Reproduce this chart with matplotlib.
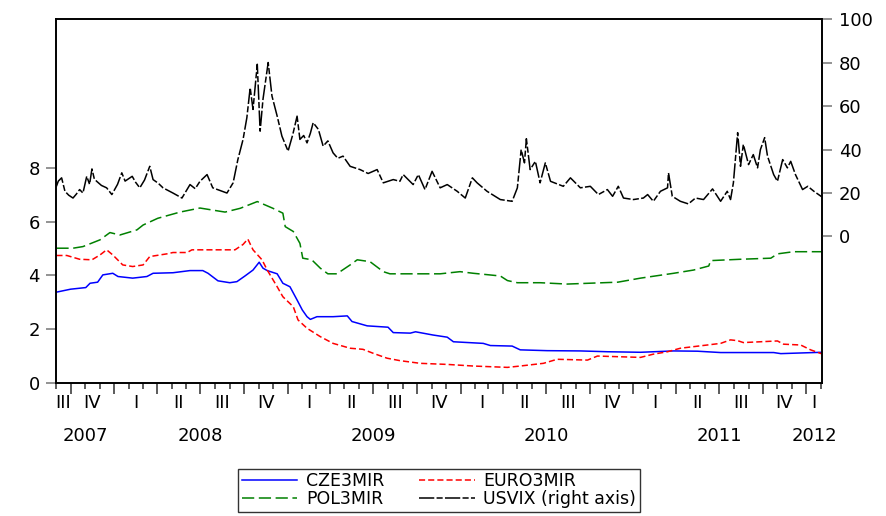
import pandas as pd
import numpy as np
import matplotlib.pyplot as plt
import matplotlib.dates as mdates
import matplotlib.transforms as mtransforms

plt.rcParams['font.family'] = ['DejaVu Sans']

# --- data ---
cze_dates = ["2007-09-01", "2007-10-01", "2007-11-02", "2007-11-11", "2007-11-27", "2007-12-08",
             "2007-12-29", "2008-01-09", "2008-02-09", "2008-03-10", "2008-03-23", "2008-05-04",
             "2008-06-09", "2008-07-06", "2008-07-17", "2008-08-07", "2008-09-01", "2008-09-16",
             "2008-10-03", "2008-10-20", "2008-11-02", "2008-11-10", "2008-11-19", "2008-12-10",
             "2008-12-22", "2009-01-06", "2009-01-21", "2009-02-01", "2009-02-11", "2009-02-18",
             "2009-03-04", "2009-04-07", "2009-05-07", "2009-05-17", "2009-06-18", "2009-08-01",
             "2009-08-12", "2009-09-17", "2009-09-28", "2009-11-04", "2009-12-04", "2009-12-17",
             "2010-02-18", "2010-03-05", "2010-04-20", "2010-05-07", "2010-07-03", "2010-09-11",
             "2010-11-07", "2011-01-16", "2011-03-27", "2011-05-16", "2011-07-04", "2011-10-24",
             "2011-11-08", "2012-02-03"]
cze_vals = [3.38, 3.49, 3.55, 3.71, 3.75, 4.02,
            4.08, 3.96, 3.90, 3.96, 4.08, 4.10,
            4.18, 4.18, 4.08, 3.80, 3.73, 3.77,
            3.98, 4.20, 4.49, 4.27, 4.18, 4.06,
            3.71, 3.58, 3.09, 2.72, 2.47, 2.37,
            2.47, 2.47, 2.50, 2.29, 2.13, 2.08,
            1.88, 1.86, 1.91, 1.79, 1.71, 1.54,
            1.48, 1.40, 1.38, 1.24, 1.21, 1.20,
            1.17, 1.15, 1.20, 1.19, 1.14, 1.14,
            1.10, 1.15]

euro_dates = ["2007-09-01", "2007-09-23", "2007-10-20", "2007-11-15", "2007-12-02", "2007-12-16",
              "2007-12-29", "2008-01-19", "2008-02-09", "2008-03-02", "2008-03-16", "2008-04-21",
              "2008-05-04", "2008-06-03", "2008-06-13", "2008-09-12", "2008-09-29", "2008-10-09",
              "2008-10-20", "2008-11-08", "2008-11-19", "2008-12-10", "2008-12-22", "2009-01-13",
              "2009-01-23", "2009-02-11", "2009-03-11", "2009-04-07", "2009-05-13", "2009-06-09",
              "2009-07-01", "2009-07-30", "2009-08-26", "2009-10-08", "2009-12-04", "2010-01-28",
              "2010-04-10", "2010-05-07", "2010-06-25", "2010-07-24", "2010-09-26", "2010-10-17",
              "2011-01-16", "2011-02-12", "2011-03-14", "2011-04-10", "2011-06-06", "2011-07-04",
              "2011-07-25", "2011-08-09", "2011-08-21", "2011-11-01", "2011-11-14", "2011-12-20",
              "2012-01-10", "2012-02-03"]
euro_vals = [4.74, 4.74, 4.60, 4.58, 4.76, 4.95,
             4.76, 4.39, 4.33, 4.39, 4.70, 4.80,
             4.85, 4.85, 4.95, 4.95, 5.15, 5.35,
             4.95, 4.58, 4.20, 3.58, 3.21, 2.84,
             2.35, 2.04, 1.73, 1.48, 1.30, 1.26,
             1.11, 0.93, 0.84, 0.74, 0.70, 0.64,
             0.59, 0.64, 0.74, 0.89, 0.86, 1.01,
             0.96, 1.08, 1.17, 1.30, 1.42, 1.48,
             1.61, 1.58, 1.51, 1.57, 1.45, 1.42,
             1.24, 1.09]

pol_dates = ["2007-09-01", "2007-10-06", "2007-10-27", "2007-12-02", "2007-12-23", "2008-01-13",
             "2008-02-18", "2008-03-02", "2008-04-02", "2008-05-19", "2008-06-30", "2008-08-22",
             "2008-09-23", "2008-10-29", "2008-12-01", "2008-12-22", "2008-12-27", "2009-01-13",
             "2009-01-27", "2009-02-02", "2009-02-21", "2009-03-11", "2009-03-27", "2009-04-15",
             "2009-05-13", "2009-05-28", "2009-06-24", "2009-07-22", "2009-08-05", "2009-11-19",
             "2009-12-31", "2010-01-28", "2010-03-26", "2010-04-10", "2010-05-01", "2010-06-18",
             "2010-08-14", "2010-11-29", "2011-01-16", "2011-03-27", "2011-05-08", "2011-06-09",
             "2011-06-13", "2011-08-15", "2011-10-18", "2011-11-01", "2011-12-05", "2012-02-03"]
pol_vals = [5.01, 5.01, 5.07, 5.32, 5.59, 5.50,
            5.69, 5.87, 6.12, 6.35, 6.50, 6.35,
            6.49, 6.74, 6.49, 6.31, 5.81, 5.63,
            5.19, 4.64, 4.58, 4.27, 4.06, 4.06,
            4.39, 4.58, 4.51, 4.14, 4.06, 4.06,
            4.14, 4.08, 3.98, 3.81, 3.73, 3.73,
            3.68, 3.75, 3.90, 4.08, 4.20, 4.35,
            4.55, 4.60, 4.64, 4.80, 4.88, 4.88]

vix_dates = ["2007-09-01", "2007-09-05", "2007-09-12", "2007-09-19", "2007-09-27", "2007-10-06",
             "2007-10-13", "2007-10-20", "2007-10-27", "2007-11-04", "2007-11-10", "2007-11-15",
             "2007-11-20", "2007-11-25", "2007-12-05", "2007-12-16", "2007-12-27", "2008-01-08",
             "2008-01-17", "2008-01-24", "2008-02-08", "2008-02-15", "2008-02-24", "2008-03-05",
             "2008-03-16", "2008-03-23", "2008-04-03", "2008-04-13", "2008-05-04", "2008-05-23",
             "2008-06-09", "2008-06-20", "2008-06-30", "2008-07-15", "2008-07-27", "2008-08-26",
             "2008-09-08", "2008-09-18", "2008-09-29", "2008-10-07", "2008-10-14", "2008-10-20",
             "2008-10-29", "2008-11-04", "2008-11-10", "2008-11-21", "2008-11-29", "2008-12-10",
             "2008-12-20", "2009-01-02", "2009-01-12", "2009-01-21", "2009-01-27", "2009-02-04",
             "2009-02-11", "2009-02-18", "2009-02-24", "2009-03-07", "2009-03-17", "2009-03-27",
             "2009-04-07", "2009-04-17", "2009-04-28", "2009-05-13", "2009-06-03", "2009-06-20",
             "2009-07-09", "2009-07-22", "2009-08-12", "2009-08-26", "2009-09-02", "2009-09-23",
             "2009-10-04", "2009-10-18", "2009-11-02", "2009-11-19", "2009-12-04", "2009-12-25",
             "2010-01-11", "2010-01-26", "2010-02-05", "2010-02-26", "2010-03-26", "2010-04-20",
             "2010-05-01", "2010-05-09", "2010-05-16", "2010-05-20", "2010-05-28", "2010-06-08",
             "2010-06-18", "2010-06-29", "2010-07-10", "2010-08-06", "2010-08-21", "2010-09-11",
             "2010-10-02", "2010-10-19", "2010-11-07", "2010-11-18", "2010-11-30", "2010-12-11",
             "2011-01-01", "2011-01-22", "2011-01-31", "2011-02-12", "2011-02-27", "2011-03-14",
             "2011-03-16", "2011-03-24", "2011-04-10", "2011-04-27", "2011-05-12", "2011-05-29",
             "2011-06-17", "2011-07-04", "2011-07-18", "2011-07-25", "2011-07-31", "2011-08-09",
             "2011-08-15", "2011-08-21", "2011-09-01", "2011-09-11", "2011-09-20", "2011-09-26",
             "2011-10-05", "2011-10-11", "2011-10-24", "2011-11-01", "2011-11-12", "2011-11-22",
             "2011-11-29", "2011-12-09", "2011-12-24", "2012-01-04", "2012-01-17", "2012-02-03"]
vix_vals = [23.1, 25.5, 27.0, 20.8, 19.0, 17.7,
            19.5, 21.6, 20.0, 27.7, 24.0, 31.1,
            26.5, 25.4, 23.5, 22.4, 19.3, 24.0,
            29.3, 25.5, 27.7, 25.0, 22.4, 26.0,
            32.3, 26.2, 24.5, 22.4, 20.0, 17.7,
            23.9, 22.0, 25.4, 28.5, 22.4, 20.0,
            24.7, 35.4, 44.7, 54.7, 68.5, 58.5,
            79.3, 48.5, 63.1, 80.1, 64.7, 55.4,
            46.2, 39.3, 47.0, 55.4, 44.7, 46.5,
            43.1, 47.5, 52.4, 49.3, 41.6, 44.0,
            38.5, 36.0, 37.0, 32.3, 30.8, 29.0,
            30.8, 24.7, 26.2, 25.4, 28.5, 23.9,
            28.5, 21.6, 30.0, 22.4, 23.9, 20.8,
            17.7, 27.0, 24.7, 20.8, 17.0, 16.2,
            22.4, 40.0, 33.9, 45.0, 30.8, 34.6,
            24.7, 33.9, 25.4, 23.1, 27.0, 22.4,
            23.1, 19.3, 21.6, 18.5, 23.1, 17.7,
            17.0, 17.7, 19.3, 16.2, 20.8, 22.4,
            29.3, 18.5, 16.2, 15.0, 17.7, 17.0,
            21.9, 16.2, 20.8, 17.0, 24.7, 47.8,
            32.3, 42.4, 33.1, 37.7, 31.6, 40.0,
            45.5, 37.0, 28.5, 25.4, 35.4, 31.6,
            34.6, 28.5, 21.6, 23.1, 20.8, 18.2]

quarter_names = ["I", "II", "III", "IV"]
start_date = pd.Timestamp("2007-09-01")
end_date = pd.Timestamp("2012-02-03")

# --- figure ---
fig = plt.figure(figsize=(8.87, 5.16), dpi=100)
ax = fig.add_axes([0.0636, 0.2572, 0.8631, 0.7054])
ax2 = ax.twinx()

l1, = ax.plot(pd.to_datetime(cze_dates), cze_vals, color='#0000ff', lw=1.1)
l2, = ax.plot(pd.to_datetime(euro_dates), euro_vals, color='#ff0000', lw=1.1, dashes=(4, 2))
l3, = ax.plot(pd.to_datetime(pol_dates), pol_vals, color='#008000', lw=1.1, dashes=(8, 3))
l4, = ax2.plot(pd.to_datetime(vix_dates), vix_vals, color='black', lw=1.1, dashes=(10, 1.5, 4, 1.5))

ax.set_xlim(start_date, end_date)
ax.set_ylim(0, 13.5)
ax.set_yticks([0, 2, 4, 6, 8])
ax2.set_ylim(-67.6, 100)
ax2.set_yticks([0, 20, 40, 60, 80, 100])

for a in (ax, ax2):
    for s in a.spines.values():
        s.set_linewidth(1.2)
ax.tick_params(axis='y', direction='out', length=7, width=1.2, color='#808080',
               labelsize=13, pad=5)
ax2.tick_params(axis='y', direction='out', length=7, width=1.2, color='#808080',
                labelsize=13, pad=5)

# month ticks, quarter ticks longer
ax.xaxis.set_major_locator(mdates.MonthLocator(bymonth=[1, 4, 7, 10]))
ax.xaxis.set_minor_locator(mdates.MonthLocator())
ax.xaxis.set_major_formatter(plt.NullFormatter())
ax.tick_params(axis='x', which='major', direction='out', length=8, width=1.2, color='#404040')
ax.tick_params(axis='x', which='minor', direction='out', length=4, width=1.2, color='#404040')

trans = mtransforms.blended_transform_factory(ax.transData, ax.transAxes)
x0 = mdates.date2num(start_date)
x1 = mdates.date2num(end_date)

# quarter labels centred in each quarter
for q in pd.period_range("2007Q3", "2012Q1", freq="Q"):
    a = max(mdates.date2num(q.start_time), x0)
    b = min(mdates.date2num(q.end_time), x1)
    ax.text((a + b) / 2, -0.055, quarter_names[q.quarter - 1], transform=trans,
            ha='center', va='center', fontsize=13)

# year labels
for y in range(2007, 2013):
    a = max(mdates.date2num(pd.Timestamp(f"{y}-01-01")), x0)
    b = min(mdates.date2num(pd.Timestamp(f"{y}-12-31")), x1)
    ax.text((a + b) / 2, -0.145, str(y), transform=trans,
            ha='center', va='center', fontsize=13)

leg = fig.legend([l1, l3, l2, l4], ["CZE3MIR", "POL3MIR", "EURO3MIR", "USVIX (right axis)"],
                 loc='center', bbox_to_anchor=(0.495, 0.05), ncol=2, fontsize=12.5,
                 frameon=True, fancybox=False, edgecolor='black', handlelength=3.2,
                 handletextpad=0.5, columnspacing=2.0, labelspacing=0.0,
                 borderpad=0.2, borderaxespad=0)
leg.get_frame().set_linewidth(1.0)

fig.savefig("out.png", dpi=100)
